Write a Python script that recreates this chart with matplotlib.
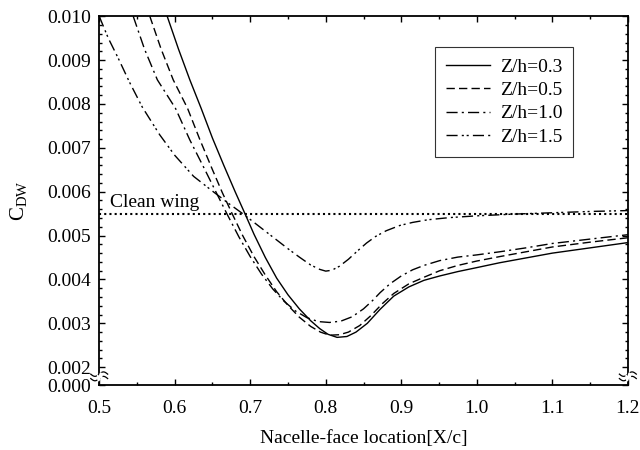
import numpy as np
import matplotlib
matplotlib.use("Agg")
import matplotlib.pyplot as plt
from matplotlib.ticker import FixedLocator, MultipleLocator

plt.rcParams['font.family'] = ['Liberation Serif', 'DejaVu Serif']
plt.rcParams['mathtext.fontset'] = 'custom'
plt.rcParams['mathtext.rm'] = 'Liberation Serif'
plt.rcParams['mathtext.it'] = 'Liberation Serif:italic'

# values (x = X/c, y = C_DW)
x_03 = [0.590, 0.605, 0.620, 0.635, 0.650, 0.665, 0.680, 0.693, 0.705, 0.720, 0.735, 0.750, 0.765,
        0.780, 0.792, 0.803, 0.815, 0.828, 0.840, 0.855, 0.872, 0.890, 0.910, 0.930, 0.951, 0.975,
        1.000, 1.030, 1.065, 1.100, 1.150, 1.200]
y_03 = [0.01000, 0.00925, 0.00855, 0.00790, 0.00722, 0.00660, 0.00600, 0.00550, 0.00503, 0.00450,
        0.00403, 0.00365, 0.00333, 0.00306, 0.00288, 0.00275, 0.00268, 0.00270, 0.00280, 0.00300,
        0.00332, 0.00362, 0.00383, 0.00398, 0.00408, 0.00418, 0.00427, 0.00438, 0.00449, 0.00460,
        0.00472, 0.00484]

x_05 = [0.567, 0.582, 0.598, 0.617, 0.633, 0.650, 0.663, 0.676, 0.690, 0.705, 0.720, 0.735, 0.750,
        0.765, 0.780, 0.793, 0.805, 0.818, 0.830, 0.845, 0.860, 0.875, 0.890, 0.910, 0.930, 0.951,
        0.975, 1.000, 1.030, 1.065, 1.100, 1.150, 1.200]
y_05 = [0.01000, 0.00925, 0.00855, 0.00790, 0.00720, 0.00650, 0.00598, 0.00550, 0.00500, 0.00452,
        0.00410, 0.00372, 0.00341, 0.00314, 0.00293, 0.00280, 0.00273, 0.00274, 0.00280, 0.00295,
        0.00318, 0.00345, 0.00368, 0.00390, 0.00405, 0.00420, 0.00432, 0.00442, 0.00452, 0.00463,
        0.00474, 0.00485, 0.00495]

x_10 = [0.545, 0.560, 0.577, 0.601, 0.620, 0.640, 0.655, 0.669, 0.685, 0.700, 0.715, 0.730, 0.745,
        0.760, 0.775, 0.790, 0.805, 0.820, 0.835, 0.850, 0.862, 0.872, 0.885, 0.900, 0.915, 0.930,
        0.951, 0.975, 1.000, 1.030, 1.065, 1.100, 1.150, 1.200]
y_10 = [0.01000, 0.00925, 0.00855, 0.00790, 0.00718, 0.00650, 0.00598, 0.00550, 0.00497, 0.00452,
        0.00412, 0.00378, 0.00350, 0.00328, 0.00313, 0.00304, 0.00302, 0.00305, 0.00315, 0.00333,
        0.00352, 0.00370, 0.00390, 0.00408, 0.00422, 0.00432, 0.00443, 0.00451, 0.00456, 0.00463,
        0.00472, 0.00482, 0.00492, 0.00502]

x_15 = [0.500, 0.512, 0.525, 0.540, 0.557, 0.580, 0.600, 0.625, 0.651, 0.670, 0.690, 0.705, 0.720,
        0.735, 0.750, 0.765, 0.780, 0.792, 0.800, 0.808, 0.818, 0.830, 0.842, 0.854, 0.866, 0.880,
        0.898, 0.915, 0.935, 0.964, 1.000, 1.050, 1.100, 1.150, 1.200]
y_15 = [0.01000, 0.00950, 0.00905, 0.00850, 0.00793, 0.00730, 0.00683, 0.00635, 0.00600, 0.00575,
        0.00550, 0.00530, 0.00510, 0.00490, 0.00470, 0.00451, 0.00433, 0.00423, 0.00419, 0.00421,
        0.00430, 0.00446, 0.00465, 0.00483, 0.00498, 0.00511, 0.00523, 0.00530, 0.00536, 0.00541,
        0.00545, 0.00549, 0.00552, 0.00555, 0.00557]

clean_wing = 0.0055

y_ticks = [0.002, 0.003, 0.004, 0.005, 0.006, 0.007, 0.008, 0.009, 0.010]
y_tick_labels = ['0.002', '0.003', '0.004', '0.005', '0.006', '0.007', '0.008', '0.009', '0.010']
x_ticks = [0.5, 0.6, 0.7, 0.8, 0.9, 1.0, 1.1, 1.2]
y_zero_pos = 0.00159   # where the "0.000" sits below the axis break

fig = plt.figure(figsize=(6.4, 4.5), dpi=100)
ax = fig.add_axes([0.155, 0.144, 0.826, 0.820])

ax.plot(x_03, y_03, color='black', lw=1.0, ls='-', label='Z/h=0.3')
ax.plot(x_05, y_05, color='black', lw=1.0, ls=(0, (6, 3)), label='Z/h=0.5')
ax.plot(x_10, y_10, color='black', lw=1.0, ls=(0, (8, 3, 1.5, 3)), label='Z/h=1.0')
ax.plot(x_15, y_15, color='black', lw=1.0, ls=(0, (8, 3, 1.5, 2, 1.5, 3)), label='Z/h=1.5')
ax.axhline(clean_wing, color='black', lw=1.5, ls=(0, (1, 1.5)))
ax.text(0.514, clean_wing + 0.00007, 'Clean wing', fontsize=14, ha='left', va='bottom')

ax.set_xlim(0.5, 1.2)
ax.set_ylim(y_zero_pos, 0.010)
ax.set_xticks(x_ticks)
ax.set_xticklabels(['%.1f' % v for v in x_ticks])
ax.xaxis.set_minor_locator(MultipleLocator(0.05))
ax.set_yticks([y_zero_pos] + y_ticks)
ax.set_yticklabels(['0.000'] + y_tick_labels)
ax.yaxis.set_minor_locator(FixedLocator([v for v in np.arange(0.0022, 0.0100, 0.0002)]))
ax.tick_params(which='both', direction='in', top=True, right=True, labelsize=14, width=1.0)
ax.tick_params(which='major', length=4)
ax.tick_params(which='minor', length=2.3)
ax.tick_params(axis='x', pad=11)
ax.tick_params(axis='y', pad=6)
for s in ax.spines.values():
    s.set_linewidth(1.3)

# axis break marks on both vertical axes
t = np.linspace(-1, 1, 30)
for xc in [0.0, 1.0]:
    for dy in [0.0, 0.012]:
        xs = xc + t * 0.016
        ys = 0.018 + dy + 0.006 * np.sin(t * np.pi)
        ax.plot(xs, ys, transform=ax.transAxes, color='black', lw=0.9, clip_on=False)
    ax.fill_between(xc + t * 0.004, 0.0195 + 0.006 * np.sin(t * np.pi),
                    0.0285 + 0.006 * np.sin(t * np.pi), transform=ax.transAxes,
                    color='white', clip_on=False, zorder=3)

ax.set_xlabel('Nacelle-face location[X/c]', fontsize=14, labelpad=9)
ax.set_ylabel(r'$\mathrm{C_{DW}}$', fontsize=15, labelpad=13)

leg = ax.legend(loc='upper right', bbox_to_anchor=(0.897, 0.916), fontsize=14, frameon=True,
                fancybox=False, edgecolor='black', handlelength=2.3, handletextpad=0.5,
                borderpad=0.55, labelspacing=0.3, borderaxespad=0)
leg.get_frame().set_linewidth(0.8)

fig.savefig('out.png', dpi=100)
